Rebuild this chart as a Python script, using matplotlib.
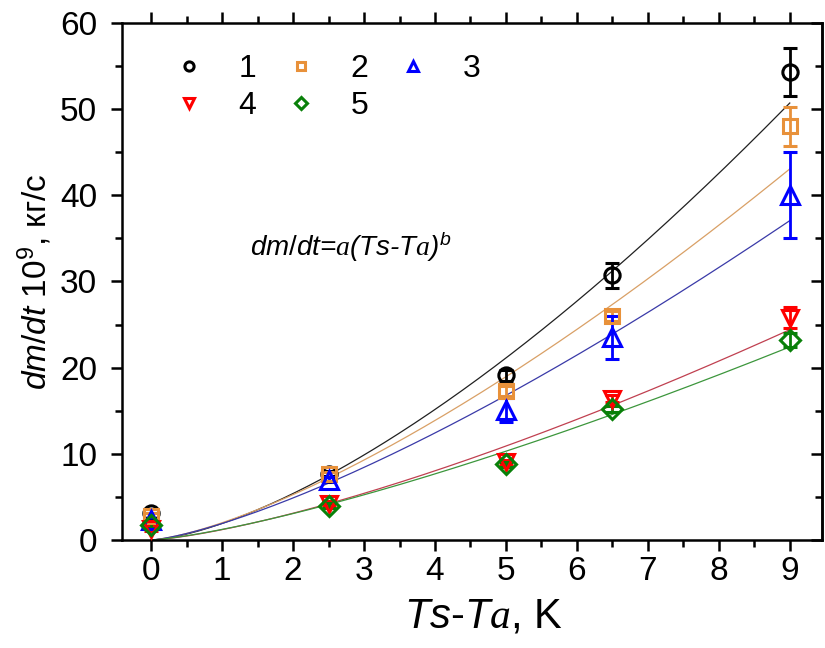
import matplotlib
matplotlib.use('Agg')
from matplotlib import pyplot as plt
from matplotlib.lines import Line2D
import numpy as np

plt.rcParams['font.family'] = ['Liberation Sans', 'DejaVu Sans']
plt.rcParams['mathtext.fontset'] = 'custom'
plt.rcParams['mathtext.rm'] = 'Liberation Sans'
plt.rcParams['mathtext.it'] = 'Liberation Sans:italic'
plt.rcParams['mathtext.sf'] = 'Liberation Serif:italic'

# temperature difference, K
dT = [0, 2.5, 5, 6.5, 9]

# evaporation rate dm/dt * 10^9, kg/s, series 1..5
rate1 = [3.1, 7.7, 19.1, 30.7, 54.3]
rate2 = [2.8, 7.6, 17.3, 26.0, 48.0]
rate3 = [2.3, 7.0, 15.1, 23.5, 40.0]
rate4 = [1.3, 4.2, 9.0, 16.4, 25.8]
rate5 = [1.7, 4.0, 8.8, 15.2, 23.2]

err1 = [0.5, 0.3, 0.6, 1.5, 2.8]
err2 = [0.3, 0.3, 0.6, 0.6, 2.3]
err3 = [0.3, 0.3, 1.4, 2.5, 5.0]
err4 = [0.3, 0.3, 0.3, 0.4, 1.2]
err5 = [0.3, 0.3, 0.3, 0.4, 0.8]

# fit dm/dt = a (Ts-Ta)^b
fit_a = [1.92, 2.0, 1.917, 1.2, 1.227]
fit_b = [1.49, 1.397, 1.348, 1.371, 1.322]

labels = ['1', '2', '3', '4', '5']
markers = ['o', 's', '^', 'v', 'D']
colors = ['black', '#E8913A', '#0000FF', '#FF0000', '#098009']
line_colors = ['#202020', '#D9A066', '#3A3AA8', '#C04050', '#3C963C']
msizes = [11, 9.5, 13, 12, 10]

rates = [rate1, rate2, rate3, rate4, rate5]
errs = [err1, err2, err3, err4, err5]

fig = plt.figure(figsize=(8.25, 6.48), dpi=100)
ax = fig.add_axes([0.148, 0.1667, 0.848, 0.7978])

xx = np.linspace(0, 9, 200)
for i in range(5):
  ax.plot(xx, fit_a[i] * xx ** fit_b[i], color=line_colors[i], lw=0.9, zorder=2)

handles = []
for i in range(5):
  ax.errorbar(dT, rates[i], yerr=errs[i], fmt=markers[i], color=colors[i],
              mfc='none', mec=colors[i], ms=msizes[i], mew=2.2,
              elinewidth=2, capsize=5, capthick=2, zorder=3)
  handles.append(Line2D([], [], ls='none', marker=markers[i], color=colors[i],
                        mfc='none', mew=2.2, ms=msizes[i] * 0.6))

order = [0, 3, 1, 4, 2]
ax.legend([handles[k] for k in order], [labels[k] for k in order], ncol=3,
          frameon=False, fontsize=23, loc='upper left',
          bbox_to_anchor=(0.02, 0.995), handletextpad=0.8, columnspacing=0.65,
          labelspacing=0.2, handlelength=1.5)

ax.text(1.39, 33.0, r'$dm/dt$=$\mathsf{a}$($Ts$-$T\mathsf{a}$)$^b$',
        fontsize=20, fontstyle='italic')

ax.set_xlim(-0.41, 9.45)
ax.set_ylim(0, 60)
ax.set_xticks(range(10))
ax.set_xticks(np.arange(-0.0, 9.5, 0.5), minor=True)
ax.set_yticks(range(0, 61, 10))
ax.set_yticks(range(5, 60, 10), minor=True)

ax.set_xlabel(r'$Ts$-$T\mathsf{a}$, K', fontsize=30, labelpad=7)
ax.xaxis.label.set_x(0.517)
ax.set_ylabel(r'$dm/dt$ 10$^9$, кг/с', fontsize=24, labelpad=4)

for s in ax.spines.values():
  s.set_linewidth(1.8)
ax.tick_params(axis='both', which='major', labelsize=24, width=1.8, length=8,
               direction='out', top=True)
ax.tick_params(axis='y', which='major', pad=10)
ax.tick_params(axis='both', which='minor', width=1.8, length=5,
               direction='out', top=True)

# right side ticks point inward
sec = ax.secondary_yaxis('right')
sec.set_yticks(range(0, 61, 10))
sec.set_yticks(range(5, 60, 10), minor=True)
sec.tick_params(which='major', direction='in', length=8, width=1.8, labelright=False)
sec.tick_params(which='minor', direction='in', length=5, width=1.8)
sec.spines['right'].set_linewidth(1.8)

plt.savefig('out.png', dpi=100)
